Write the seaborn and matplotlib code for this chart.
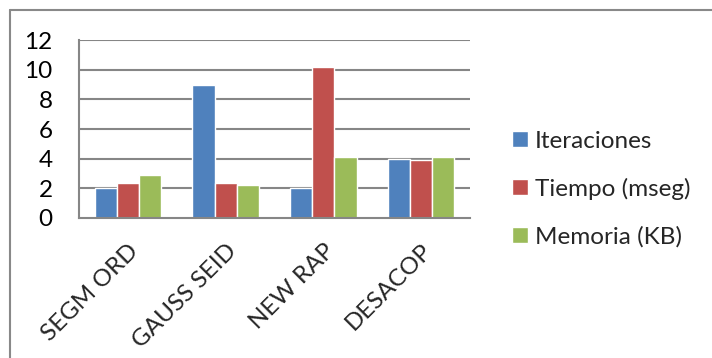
import matplotlib
matplotlib.use("Agg")
import matplotlib.pyplot as plt
import seaborn as sns
import pandas as pd
from matplotlib.lines import Line2D

categories = ["SEGM ORD", "GAUSS SEID", "NEW RAP", "DESACOP"]
iteraciones = [2.0, 9.0, 2.0, 4.0]
tiempo = [2.34, 2.38, 10.2, 3.9]
memoria = [2.88, 2.22, 4.1, 4.1]
series_names = ["Iteraciones", "Tiempo (mseg)", "Memoria (KB)"]
colors = ["#4F81BD", "#C0504D", "#9BBB59"]
yticks = [0, 2, 4, 6, 8, 10, 12]

rows = []
for name, vals in zip(series_names, [iteraciones, tiempo, memoria]):
    for c, v in zip(categories, vals):
        rows.append({"cat": c, "serie": name, "val": v})
df = pd.DataFrame(rows)

sns.set_theme(style="white")
plt.rcParams["font.family"] = ["Lato", "DejaVu Sans"]

W, H = 712, 358
fig = plt.figure(figsize=(W / 100, H / 100), dpi=100)
ax = fig.add_axes([79 / W, (H - 218) / H, (470 - 79) / W, 178 / H])

sns.barplot(data=df, x="cat", y="val", hue="serie", order=categories,
            hue_order=series_names, palette=colors, width=0.68, gap=0,
            saturation=1, ax=ax, legend=True)

ax.set_ylim(0, 12)
ax.set_yticks(yticks)
ax.set_xlim(-0.5, 3.5)
ax.set_xlabel("")
ax.set_ylabel("")
grid_c = "#868686"
for y in yticks[1:]:
    ax.axhline(y, color=grid_c, lw=1.5, zorder=0)
ax.set_axisbelow(True)
for s in ["top", "right"]:
    ax.spines[s].set_visible(False)
for s in ["left", "bottom"]:
    ax.spines[s].set_color(grid_c)
    ax.spines[s].set_linewidth(1.5)
ax.tick_params(axis="y", labelsize=17.5, colors="black", length=0, pad=19)
ax.tick_params(axis="x", labelsize=17.5, length=0, pad=16)
for lab in ax.get_xticklabels():
    lab.set_rotation(45)
    lab.set_ha("right")
    lab.set_rotation_mode("anchor")

handles, labels = ax.get_legend_handles_labels()
ax.legend_.remove()
fig.legend(handles, labels, loc="center left", bbox_to_anchor=(490 / W, 1 - 189 / H),
           frameon=False, fontsize=17.5, handlelength=0.65, handleheight=0.65,
           labelspacing=1.07, handletextpad=0.3)

border_c = "#898989"
fig.add_artist(Line2D([10 / W, 1], [1 - 10 / H, 1 - 10 / H], color=border_c, lw=1.5, transform=fig.transFigure))
fig.add_artist(Line2D([10 / W, 10 / W], [0, 1 - 10 / H], color=border_c, lw=1.5, transform=fig.transFigure))

fig.savefig("out.png", dpi=100)
